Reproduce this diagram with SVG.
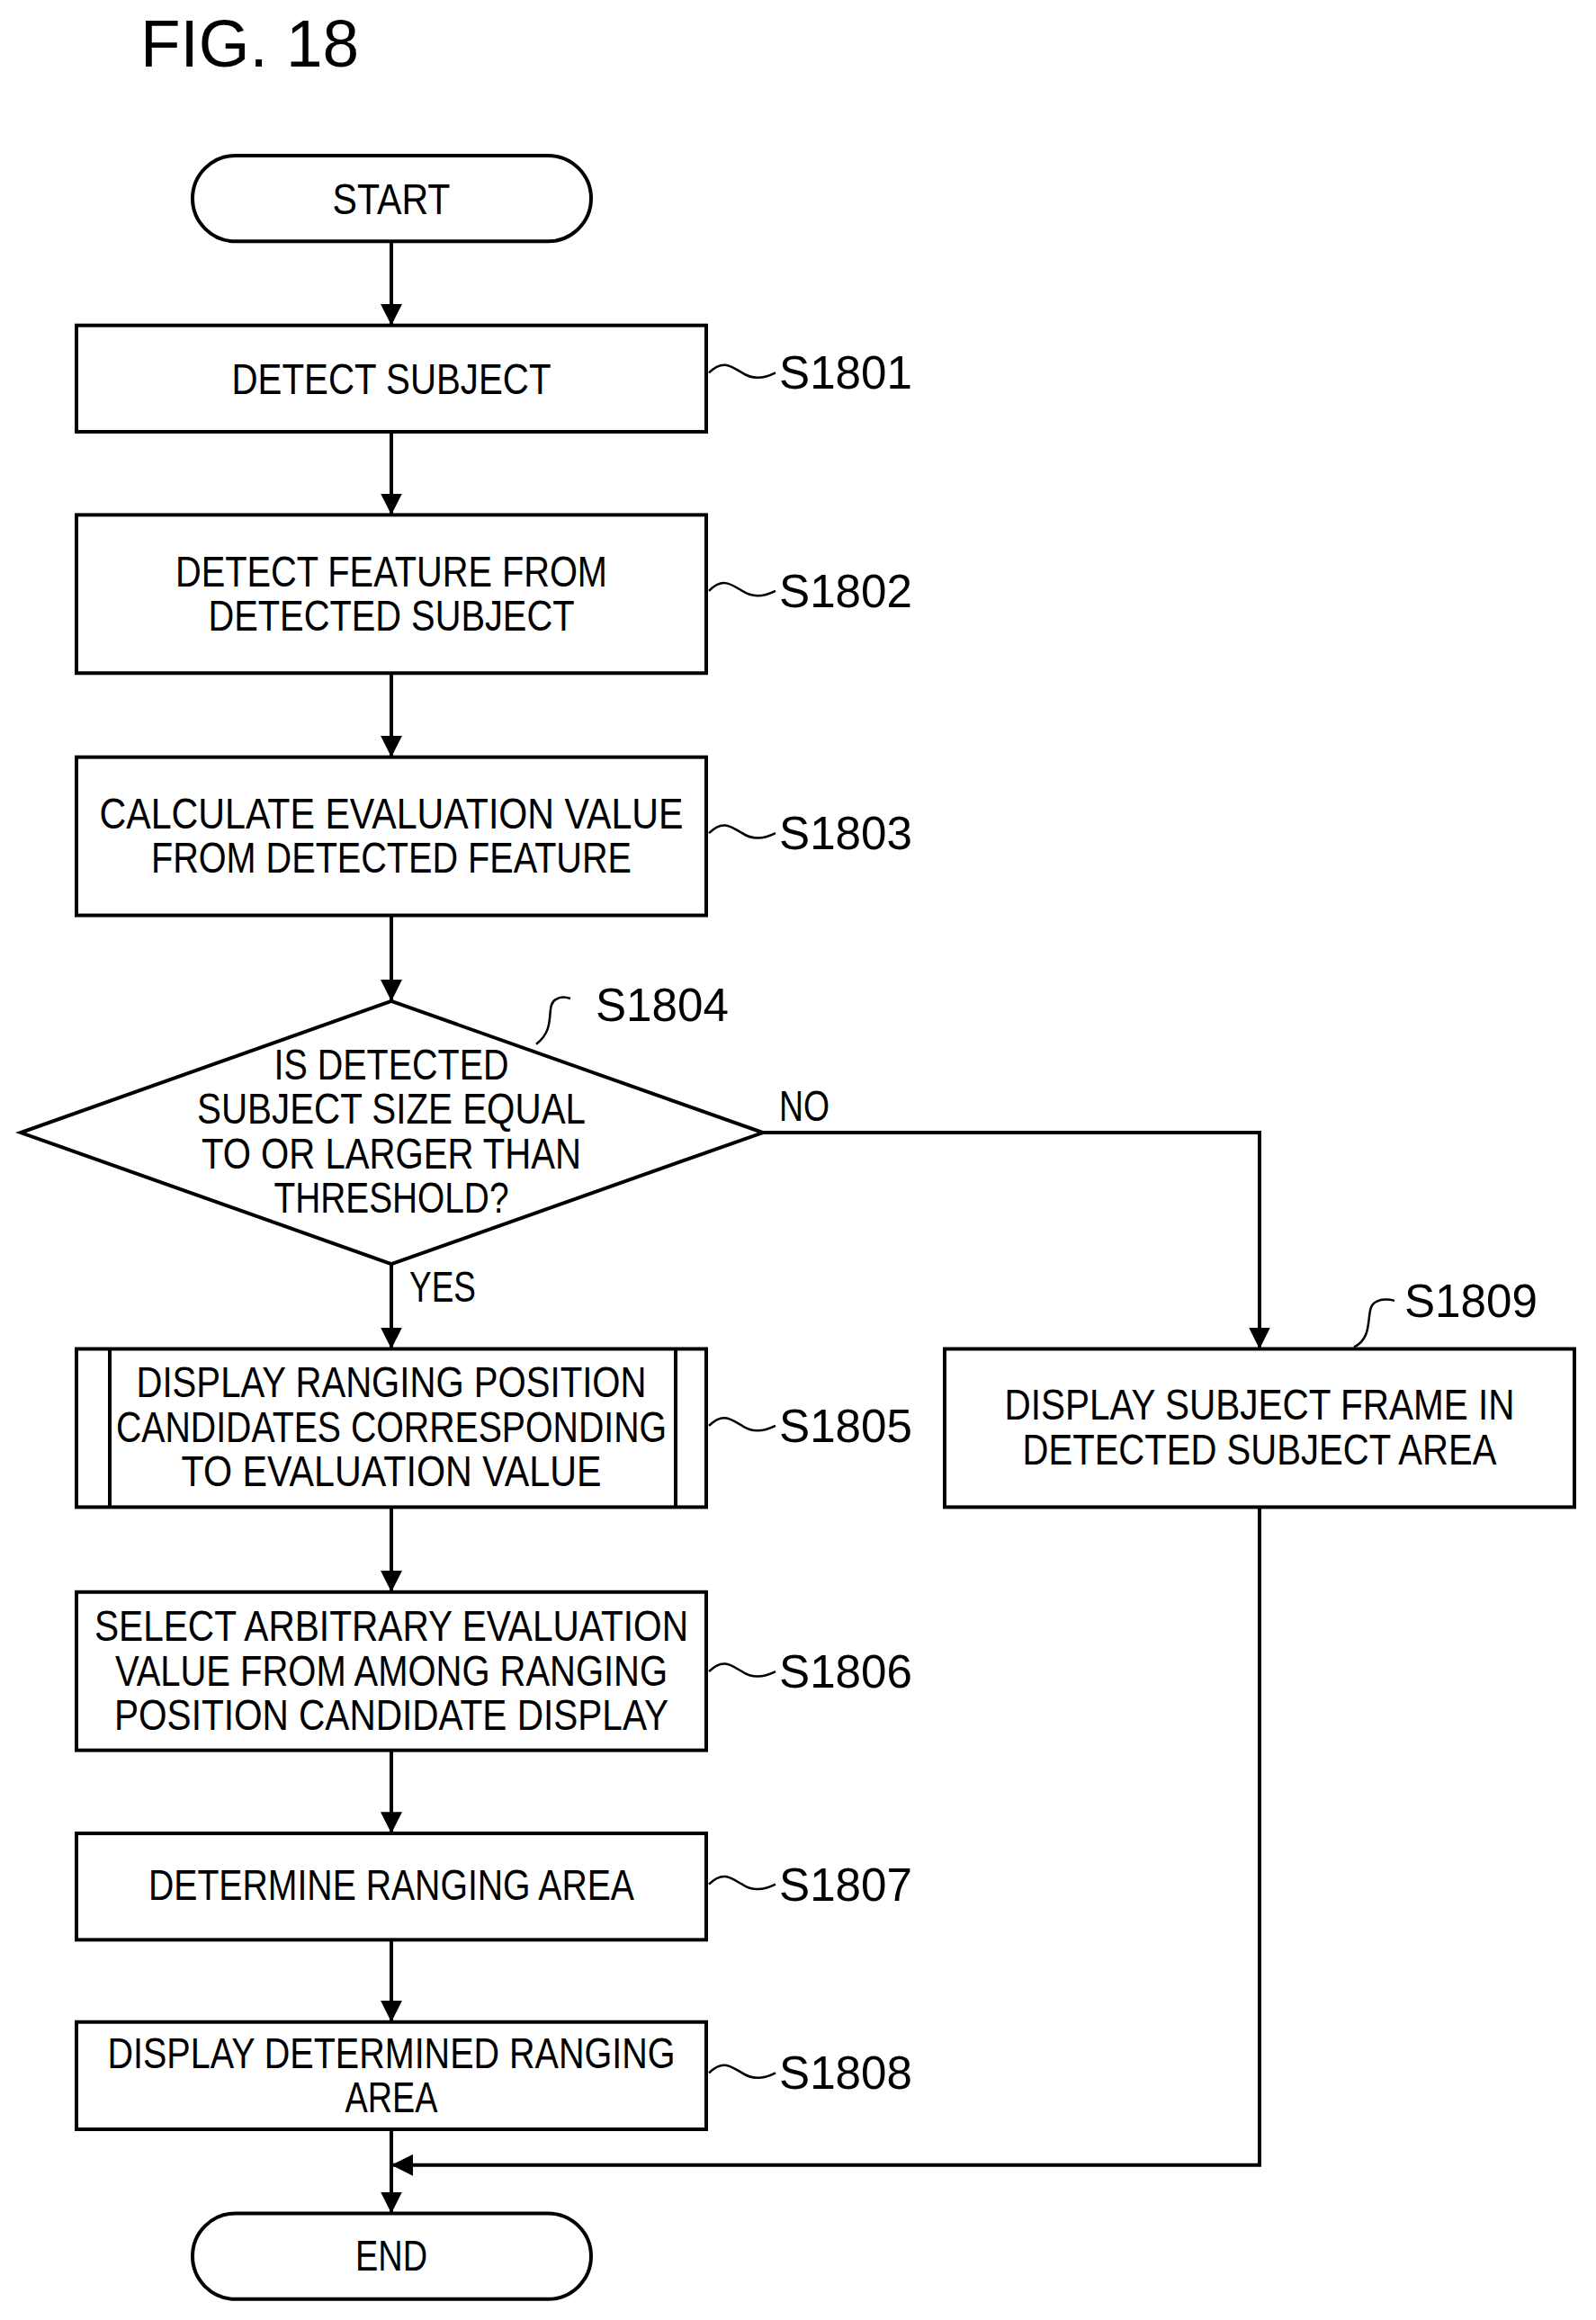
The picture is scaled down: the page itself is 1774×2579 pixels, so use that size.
<svg xmlns="http://www.w3.org/2000/svg" width="1774" height="2579" viewBox="0 0 1774 2579">
<style>
.b{fill:#fff;stroke:#000;stroke-width:4}
.l{fill:none;stroke:#000;stroke-width:4}
text{font-family:"Liberation Sans",Arial,sans-serif;font-size:49px;fill:#000;text-anchor:middle}
.s{text-anchor:start}
</style>
<defs>
<marker id="ah" markerWidth="26" markerHeight="24" refX="24" refY="12" orient="auto" markerUnits="userSpaceOnUse"><path d="M0,0 L24,12 L0,24 z" fill="#000"/></marker></defs>
<rect width="1774" height="2579" fill="#fff"/>
<text class="s" x="156" y="74" style="font-size:74px" textLength="243" lengthAdjust="spacingAndGlyphs">FIG. 18</text>
<g transform="scale(1,0.9937)">
<g id="connectors">
<path class="l" d="M435,270 V364" marker-end="url(#ah)"/>
<path class="l" d="M435,483 V576" marker-end="url(#ah)"/>
<path class="l" d="M435,753 V847" marker-end="url(#ah)"/>
<path class="l" d="M435,1024 V1120" marker-end="url(#ah)"/>
<path class="l" d="M435,1414 V1509" marker-end="url(#ah)"/>
<path class="l" d="M435,1686 V1781" marker-end="url(#ah)"/>
<path class="l" d="M435,1958 V2051" marker-end="url(#ah)"/>
<path class="l" d="M435,2170 V2262" marker-end="url(#ah)"/>
<path class="l" d="M435,2382 V2476" marker-end="url(#ah)"/>
<path class="l" d="M848,1267 H1400 V1509" marker-end="url(#ah)"/>
<path class="l" d="M1400,1686 V2422 H435" marker-end="url(#ah)"/>
<text class="s" x="866" y="1254" textLength="56" lengthAdjust="spacingAndGlyphs">NO</text>
<text class="s" x="455" y="1456" textLength="74" lengthAdjust="spacingAndGlyphs">YES</text>
</g>
<g id="start"><rect class="b" x="214" y="174" width="443" height="96" rx="48"/><text x="435" y="240" textLength="131" lengthAdjust="spacingAndGlyphs">START</text></g>
<g id="s1801"><rect class="b" x="85" y="364" width="700" height="119"/><text x="435" y="441" textLength="355" lengthAdjust="spacingAndGlyphs">DETECT SUBJECT</text>
<path class="l" style="stroke-width:2.5" d="M788,417 C805,400 815,412 825,417 C835,424 848,424 862,417"/><text class="s" x="866" y="435" style="font-size:52px" textLength="148" lengthAdjust="spacingAndGlyphs">S1801</text></g>
<g id="s1802"><rect class="b" x="85" y="576" width="700" height="177"/><text x="435" y="656" textLength="480" lengthAdjust="spacingAndGlyphs">DETECT FEATURE FROM</text><text x="435" y="705" textLength="407" lengthAdjust="spacingAndGlyphs">DETECTED SUBJECT</text>
<path class="l" style="stroke-width:2.5" d="M788,661 C805,644 815,656 825,661 C835,668 848,668 862,661"/><text class="s" x="866" y="679" style="font-size:52px" textLength="148" lengthAdjust="spacingAndGlyphs">S1802</text></g>
<g id="s1803"><rect class="b" x="85" y="847" width="700" height="177"/><text x="435" y="927" textLength="649" lengthAdjust="spacingAndGlyphs">CALCULATE EVALUATION VALUE</text><text x="435" y="976" textLength="534" lengthAdjust="spacingAndGlyphs">FROM DETECTED FEATURE</text>
<path class="l" style="stroke-width:2.5" d="M788,932 C805,915 815,927 825,932 C835,939 848,939 862,932"/><text class="s" x="866" y="950" style="font-size:52px" textLength="148" lengthAdjust="spacingAndGlyphs">S1803</text></g>
<g id="s1804"><polygon class="b" points="435,1120 848,1267 435,1414 23,1267"/>
<text x="435" y="1208" textLength="261" lengthAdjust="spacingAndGlyphs">IS DETECTED</text><text x="435" y="1257" textLength="432" lengthAdjust="spacingAndGlyphs">SUBJECT SIZE EQUAL</text><text x="435" y="1307" textLength="422" lengthAdjust="spacingAndGlyphs">TO OR LARGER THAN</text><text x="435" y="1357" textLength="261" lengthAdjust="spacingAndGlyphs">THRESHOLD?</text>
<path class="l" style="stroke-width:2.5" d="M596,1168 C620,1150 605,1125 618,1118 C622,1115 628,1115 634,1117"/><text class="s" x="662" y="1142" style="font-size:52px" textLength="148" lengthAdjust="spacingAndGlyphs">S1804</text></g>
<g id="s1805"><rect class="b" x="85" y="1509" width="700" height="177"/><path class="l" d="M122,1509 V1686 M751,1509 V1686"/>
<text x="435" y="1563" textLength="567" lengthAdjust="spacingAndGlyphs">DISPLAY RANGING POSITION</text><text x="435" y="1613" textLength="612" lengthAdjust="spacingAndGlyphs">CANDIDATES CORRESPONDING</text><text x="435" y="1662" textLength="467" lengthAdjust="spacingAndGlyphs">TO EVALUATION VALUE</text>
<path class="l" style="stroke-width:2.5" d="M788,1595 C805,1578 815,1590 825,1595 C835,1602 848,1602 862,1595"/><text class="s" x="866" y="1613" style="font-size:52px" textLength="148" lengthAdjust="spacingAndGlyphs">S1805</text></g>
<g id="s1806"><rect class="b" x="85" y="1781" width="700" height="177"/>
<text x="435" y="1836" textLength="660" lengthAdjust="spacingAndGlyphs">SELECT ARBITRARY EVALUATION</text><text x="435" y="1886" textLength="614" lengthAdjust="spacingAndGlyphs">VALUE FROM AMONG RANGING</text><text x="435" y="1935" textLength="616" lengthAdjust="spacingAndGlyphs">POSITION CANDIDATE DISPLAY</text>
<path class="l" style="stroke-width:2.5" d="M788,1870 C805,1853 815,1865 825,1870 C835,1877 848,1877 862,1870"/><text class="s" x="866" y="1888" style="font-size:52px" textLength="148" lengthAdjust="spacingAndGlyphs">S1806</text></g>
<g id="s1807"><rect class="b" x="85" y="2051" width="700" height="119"/><text x="435" y="2125" textLength="540" lengthAdjust="spacingAndGlyphs">DETERMINE RANGING AREA</text>
<path class="l" style="stroke-width:2.5" d="M788,2108 C805,2091 815,2103 825,2108 C835,2115 848,2115 862,2108"/><text class="s" x="866" y="2126" style="font-size:52px" textLength="148" lengthAdjust="spacingAndGlyphs">S1807</text></g>
<g id="s1808"><rect class="b" x="85" y="2262" width="700" height="120"/><text x="435" y="2314" textLength="631" lengthAdjust="spacingAndGlyphs">DISPLAY DETERMINED RANGING</text><text x="435" y="2363" textLength="103" lengthAdjust="spacingAndGlyphs">AREA</text>
<path class="l" style="stroke-width:2.5" d="M788,2319 C805,2302 815,2314 825,2319 C835,2326 848,2326 862,2319"/><text class="s" x="866" y="2337" style="font-size:52px" textLength="148" lengthAdjust="spacingAndGlyphs">S1808</text></g>
<g id="s1809"><rect class="b" x="1050" y="1509" width="700" height="177"/><text x="1400" y="1588" textLength="567" lengthAdjust="spacingAndGlyphs">DISPLAY SUBJECT FRAME IN</text><text x="1400" y="1638" textLength="527" lengthAdjust="spacingAndGlyphs">DETECTED SUBJECT AREA</text>
<path class="l" style="stroke-width:2.5" d="M1505,1507 C1530,1495 1515,1462 1530,1456 C1536,1453 1542,1453 1550,1455"/><text class="s" x="1561" y="1473" style="font-size:52px" textLength="148" lengthAdjust="spacingAndGlyphs">S1809</text></g>
<g id="end"><rect class="b" x="214" y="2476" width="443" height="96" rx="48"/><text x="435" y="2540" textLength="80" lengthAdjust="spacingAndGlyphs">END</text></g>
</g>
</svg>
